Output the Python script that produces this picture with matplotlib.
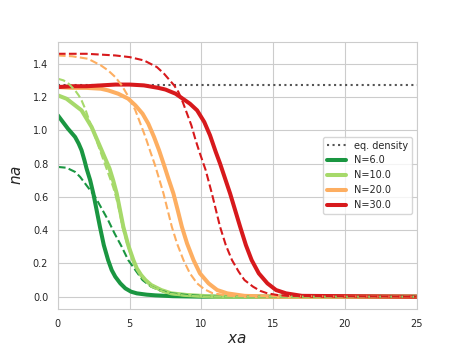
import numpy as np
import matplotlib
matplotlib.use("Agg")
import matplotlib.pyplot as plt
import seaborn as sns

# profile values (x in units of a)
eq_density = 1.27
labels = ["N=6.0", "N=10.0", "N=20.0", "N=30.0"]
colors = ["#1a9641", "#a6d96a", "#fdae61", "#d7191c"]

x6 = [0, 0.35, 0.7, 1.0, 1.2, 1.45, 1.65, 1.85, 2.0, 2.25, 2.47, 2.7, 2.93, 3.2, 3.5, 3.75, 4.0, 4.35, 4.7, 5.1, 5.5, 6.2, 6.8, 8, 10, 25]
y6 = [1.09, 1.05, 1.01, 0.98, 0.96, 0.92, 0.88, 0.82, 0.77, 0.70, 0.62, 0.52, 0.42, 0.31, 0.22, 0.16, 0.12, 0.08, 0.05, 0.03, 0.02, 0.012, 0.008, 0.003, 0.0, 0.0]
x6d = [0, 0.6, 1.2, 1.55, 1.9, 2.25, 2.6, 3.05, 3.5, 3.95, 4.45, 4.9, 5.4, 5.9, 6.5, 7.2, 7.9, 9, 11, 25]
y6d = [0.78, 0.775, 0.75, 0.72, 0.68, 0.64, 0.60, 0.53, 0.46, 0.38, 0.30, 0.22, 0.16, 0.10, 0.06, 0.035, 0.02, 0.01, 0.0, 0.0]

x10 = [0, 0.6, 1.2, 1.65, 2.0, 2.35, 2.7, 3.05, 3.35, 3.6, 3.85, 4.1, 4.33, 4.56, 4.9, 5.26, 5.5, 5.8, 6.1, 6.5, 7.2, 7.9, 9, 11, 25]
y10 = [1.21, 1.19, 1.15, 1.12, 1.07, 1.02, 0.95, 0.88, 0.82, 0.77, 0.70, 0.62, 0.52, 0.42, 0.31, 0.22, 0.17, 0.13, 0.10, 0.07, 0.04, 0.02, 0.01, 0.0, 0.0]
x10d = [0, 0.4, 0.75, 1.2, 1.45, 1.65, 1.9, 2.1, 2.35, 2.6, 3.1, 3.6, 3.85, 4.05, 4.3, 4.5, 4.85, 5.2, 5.5, 5.8, 6.5, 7.6, 9, 11, 25]
y10d = [1.31, 1.30, 1.28, 1.24, 1.21, 1.18, 1.13, 1.08, 1.02, 0.96, 0.84, 0.72, 0.66, 0.60, 0.51, 0.42, 0.31, 0.22, 0.16, 0.12, 0.06, 0.02, 0.005, 0.0, 0.0]

x20 = [0, 1, 2, 3, 3.5, 4.2, 4.9, 5.4, 5.9, 6.3, 6.7, 7.05, 7.4, 7.7, 8.05, 8.35, 8.64, 9.0, 9.45, 9.9, 10.5, 11.1, 11.8, 13, 15, 25]
y20 = [1.26, 1.255, 1.255, 1.25, 1.24, 1.22, 1.19, 1.15, 1.10, 1.04, 0.96, 0.88, 0.79, 0.71, 0.62, 0.52, 0.42, 0.32, 0.22, 0.14, 0.08, 0.04, 0.02, 0.005, 0.0, 0.0]
x20d = [0, 1, 2.1, 3, 3.5, 4.0, 4.45, 5.0, 5.4, 5.75, 6.1, 6.45, 6.77, 7.05, 7.36, 7.65, 7.94, 8.3, 8.75, 9.2, 9.7, 10.2, 10.8, 12, 25]
y20d = [1.45, 1.445, 1.43, 1.39, 1.36, 1.32, 1.27, 1.19, 1.12, 1.04, 0.96, 0.87, 0.79, 0.71, 0.62, 0.52, 0.42, 0.32, 0.22, 0.14, 0.08, 0.045, 0.02, 0.005, 0.0]

x30 = [0, 1, 2, 3, 4, 5, 6, 7, 7.5, 8.2, 8.7, 9.2, 9.7, 10.2, 10.6, 11.0, 11.3, 11.65, 12.0, 12.35, 12.7, 13.1, 13.5, 14.0, 14.6, 15.2, 15.9, 17, 25]
y30 = [1.26, 1.265, 1.265, 1.27, 1.275, 1.275, 1.27, 1.255, 1.245, 1.22, 1.19, 1.16, 1.12, 1.05, 0.97, 0.87, 0.80, 0.71, 0.62, 0.52, 0.42, 0.31, 0.22, 0.14, 0.08, 0.04, 0.02, 0.005, 0.0]
x30d = [0, 1, 2, 3, 4, 5, 6, 6.9, 7.4, 7.8, 8.1, 8.4, 8.7, 9.0, 9.3, 9.6, 9.9, 10.3, 10.73, 11.3, 11.7, 12.13, 12.6, 13.0, 13.6, 14.1, 14.6, 15.3, 16, 25]
y30d = [1.46, 1.46, 1.46, 1.455, 1.45, 1.44, 1.42, 1.38, 1.34, 1.30, 1.27, 1.23, 1.17, 1.10, 1.03, 0.94, 0.86, 0.76, 0.62, 0.42, 0.31, 0.22, 0.15, 0.10, 0.06, 0.035, 0.02, 0.01, 0.005, 0.0]

solid = [(x6, y6), (x10, y10), (x20, y20), (x30, y30)]
dashed = [(x6d, y6d), (x10d, y10d), (x20d, y20d), (x30d, y30d)]

sns.set_style("whitegrid")
plt.rcParams['font.family'] = ['DejaVu Sans']

fig, ax = plt.subplots(figsize=(4.63, 3.47), dpi=100)

ax.plot([0, 25], [eq_density, eq_density], ls=':', color='#555555', lw=1.5, label='eq. density')
for (xs, ys), c, lab in zip(solid, colors, labels):
    ax.plot(xs, ys, color=c, lw=2.9, label=lab)
for (xs, ys), c in zip(dashed, colors):
    ax.plot(xs, ys, color=c, lw=1.5, ls='--')

ax.set_xlim(0, 25)
ax.set_xlabel(r'$xa$', fontsize=11, labelpad=2)
ax.set_ylabel(r'$na$', fontsize=11, labelpad=6)
ax.tick_params(labelsize=7, colors='.15')
ax.legend(loc='center right', fontsize=7)

plt.savefig('out.png', dpi=100)
